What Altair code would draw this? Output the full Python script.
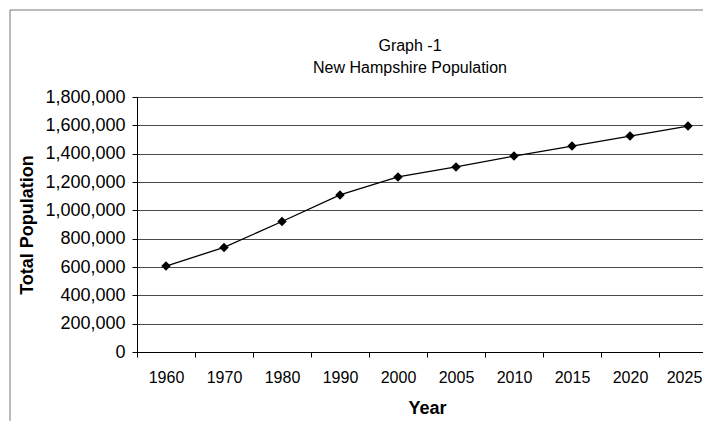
import altair as alt
import pandas as pd

years = ["1960", "1970", "1980", "1990", "2000", "2005", "2010", "2015", "2020", "2025"]
population = [607000, 738000, 921000, 1109000, 1236000, 1306000, 1383000, 1454000, 1524000, 1595000]
y_ticks = [0, 200000, 400000, 600000, 800000, 1000000, 1200000, 1400000, 1600000, 1800000]
title_lines = ["Graph -1", "New Hampshire Population"]

df = pd.DataFrame({"Year": years, "Population": population})

W, H = 566, 255          # visible plot area (the reference plot runs past the right edge)
BAND_RANGE = 580         # full width of the 10 year bands
FONT = "Liberation Sans"

x_enc = alt.X(
    "Year:O",
    sort=years,
    scale=alt.Scale(type="band", paddingInner=0, paddingOuter=0, range=[0, BAND_RANGE]),
    axis=alt.Axis(
        title="Year", labelAngle=0, tickBand="extent", grid=False,
        domainColor="black", tickColor="black", tickSize=5,
        labelPadding=12, labelFontSize=16, labelFont=FONT, labelColor="black",
        labelOffset={"condition": {"test": "datum.value === '2025'", "value": -4}, "value": 0},
        titleFontSize=18, titleFontWeight="bold", titleFont=FONT,
        titleColor="black", titlePadding=14,
    ),
)
y_enc = alt.Y(
    "Population:Q",
    scale=alt.Scale(domain=[0, 1800000], nice=False),
    axis=alt.Axis(
        title="Total Population", values=y_ticks, format=",.0f",
        domainColor="black", tickColor="black", tickSize=5,
        labelPadding=7, labelFontSize=18, labelFont=FONT, labelColor="black",
        titleFontSize=18, titleFontWeight="bold", titleFont=FONT,
        titleColor="black", titlePadding=8,
        grid=True, gridColor="#4a4a4a", gridWidth=1.2,
    ),
)

base = alt.Chart(df).encode(x=x_enc, y=y_enc)
line = base.mark_line(color="black", strokeWidth=1.3)
points = base.mark_point(shape="diamond", filled=True, size=90, color="black", opacity=1)

frame_df = pd.DataFrame({"k": [0]})
left_border = alt.Chart(frame_df).mark_rule(color="#777777", strokeWidth=1).encode(
    x=alt.value(-127), y=alt.value(-87), y2=alt.value(H + 90)
)
top_border = alt.Chart(frame_df).mark_rule(color="#777777", strokeWidth=1).encode(
    x=alt.value(-127), x2=alt.value(W + 20), y=alt.value(-87)
)

title_df = pd.DataFrame({"line": title_lines})
title1 = alt.Chart(title_df).transform_filter(alt.datum.line == title_lines[0]).mark_text(
    font=FONT, fontSize=16, color="black", align="center", baseline="middle"
).encode(x=alt.value(273), y=alt.value(-51), text="line:N")
title2 = alt.Chart(title_df).transform_filter(alt.datum.line == title_lines[1]).mark_text(
    font=FONT, fontSize=16, color="black", align="center", baseline="middle"
).encode(x=alt.value(273), y=alt.value(-29), text="line:N")

chart = alt.layer(left_border, top_border, title1, title2, line, points).properties(
    width=W,
    height=H,
    autosize=alt.AutoSizeParams(type="none"),
    padding={"left": 129, "top": 89, "right": 0, "bottom": 70},
).configure_view(stroke=None).configure(background="white")

chart.save("out.html", embed_options={"renderer": "svg", "actions": False})
